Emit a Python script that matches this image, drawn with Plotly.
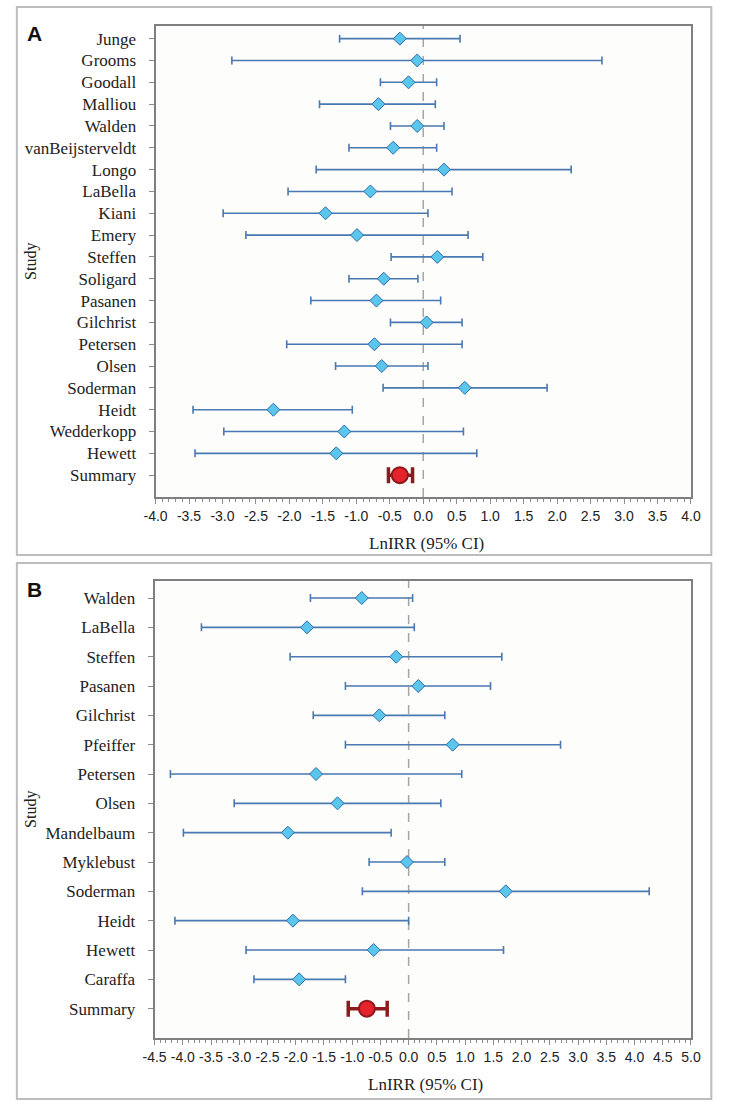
import plotly.graph_objects as go

# ---------------- Panel A data ----------------
studies_a = ["Junge", "Grooms", "Goodall", "Malliou", "Walden", "vanBeijsterveldt",
             "Longo", "LaBella", "Kiani", "Emery", "Steffen", "Soligard", "Pasanen",
             "Gilchrist", "Petersen", "Olsen", "Soderman", "Heidt", "Wedderkopp", "Hewett"]
est_a = [-0.35, -0.09, -0.22, -0.67, -0.09, -0.45, 0.31, -0.79, -1.46, -0.99,
         0.21, -0.59, -0.70, 0.05, -0.73, -0.62, 0.62, -2.24, -1.18, -1.30]
low_a = [-1.25, -2.86, -0.64, -1.55, -0.49, -1.11, -1.60, -2.02, -2.99, -2.65,
         -0.48, -1.11, -1.68, -0.49, -2.04, -1.31, -0.60, -3.44, -2.98, -3.41]
up_a = [0.55, 2.67, 0.20, 0.18, 0.31, 0.20, 2.21, 0.43, 0.07, 0.67,
        0.89, -0.08, 0.26, 0.58, 0.58, 0.07, 1.85, -1.06, 0.60, 0.80]
summary_a = {"est": -0.35, "low": -0.52, "up": -0.16}
xticks_a = [-4.0, -3.5, -3.0, -2.5, -2.0, -1.5, -1.0, -0.5, 0.0, 0.5, 1.0, 1.5, 2.0, 2.5, 3.0, 3.5, 4.0]

# ---------------- Panel B data ----------------
studies_b = ["Walden", "LaBella", "Steffen", "Pasanen", "Gilchrist", "Pfeiffer", "Petersen",
             "Olsen", "Mandelbaum", "Myklebust", "Soderman", "Heidt", "Hewett", "Caraffa"]
est_b = [-0.83, -1.80, -0.22, 0.17, -0.52, 0.78, -1.64, -1.26, -2.14, -0.03, 1.72, -2.05, -0.62, -1.94]
low_b = [-1.74, -3.67, -2.10, -1.12, -1.69, -1.12, -4.22, -3.09, -3.99, -0.70, -0.82, -4.14, -2.88, -2.74]
up_b = [0.07, 0.10, 1.65, 1.45, 0.64, 2.69, 0.94, 0.57, -0.31, 0.64, 4.26, 0.00, 1.68, -1.12]
summary_b = {"est": -0.74, "low": -1.07, "up": -0.38}
xticks_b = [-4.5, -4.0, -3.5, -3.0, -2.5, -2.0, -1.5, -1.0, -0.5, 0.0, 0.5, 1.0, 1.5, 2.0,
            2.5, 3.0, 3.5, 4.0, 4.5, 5.0]

W, H = 732, 1110
SERIF = "Liberation Serif"
SANS = "Liberation Sans"
STUDY_LINE = "#4A78B0"
DIAMOND_FILL = "#5BC6EC"
DIAMOND_LINE = "#2E6DAE"
SUM_FILL = "#E4232B"
SUM_LINE = "#8E1A1E"

def px(x):
    return x / W

def py(y):
    return 1 - y / H

fig = go.Figure()

def add_panel(idx, studies, est, low, up, summ, xticks, xrange_, plot_box, outer_box, letter):
    n = len(studies)
    ypos = list(range(n + 1, 1, -1))
    xa = "x" if idx == 1 else "x2"
    ya = "y" if idx == 1 else "y2"
    fig.add_trace(go.Scatter(
        x=est, y=ypos, mode="markers", xaxis=xa, yaxis=ya,
        marker=dict(symbol="diamond", size=10, color=DIAMOND_FILL,
                    line=dict(color=DIAMOND_LINE, width=1)),
        error_x=dict(type="data", symmetric=False,
                     array=[u - e for u, e in zip(up, est)],
                     arrayminus=[e - l for e, l in zip(est, low)],
                     color=STUDY_LINE, thickness=1.6, width=4),
        showlegend=False, hoverinfo="skip"))
    fig.add_trace(go.Scatter(
        x=[summ["est"]], y=[1], mode="markers", xaxis=xa, yaxis=ya,
        marker=dict(symbol="circle", size=16, color=SUM_FILL,
                    line=dict(color=SUM_LINE, width=2)),
        error_x=dict(type="data", symmetric=False,
                     array=[summ["up"] - summ["est"]],
                     arrayminus=[summ["est"] - summ["low"]],
                     color=SUM_LINE, thickness=3.5, width=8),
        showlegend=False, hoverinfo="skip"))

    x0, y0, x1, y1 = plot_box
    axis_common = dict(showgrid=False, zeroline=False, showline=True, mirror=True,
                       linecolor="#7F7F7F", linewidth=2, ticks="outside",
                       tickcolor="#8C8C8C", ticklen=5, tickwidth=1)
    xkey = "xaxis" if idx == 1 else "xaxis2"
    ykey = "yaxis" if idx == 1 else "yaxis2"
    fig.update_layout(**{
        xkey: dict(axis_common, domain=[px(x0), px(x1)], range=xrange_,
                   tickvals=xticks, ticktext=[f"{v:.1f}" for v in xticks],
                   tickfont=dict(family=SANS, size=14, color="#222"),
                   minor=dict(dtick=0.1, tick0=0, ticks="outside", ticklen=3,
                              tickcolor="#8C8C8C", tickwidth=1),
                   anchor=ya),
        ykey: dict(axis_common, domain=[py(y1), py(y0)], range=[0, n + 1.58],
                   tickvals=ypos + [1], ticktext=studies + ["Summary"],
                   tickfont=dict(family=SERIF, size=17, color="#222"),
                   ticklabelstandoff=9,
                   anchor=xa),
    })
    # dashed zero line
    fig.add_shape(type="line", xref=xa, yref=f"{ya} domain", x0=0, x1=0, y0=0, y1=1,
                  line=dict(color="#A6A6A6", width=1.5, dash="dash"), layer="below")
    # outer panel box
    ox0, oy0, ox1, oy1 = outer_box
    fig.add_shape(type="rect", xref="paper", yref="paper",
                  x0=px(ox0), x1=px(ox1), y0=py(oy1), y1=py(oy0),
                  line=dict(color="#BDBDBD", width=2), fillcolor="rgba(0,0,0,0)")
    # panel letter
    fig.add_annotation(text=f"<b>{letter}</b>", xref="paper", yref="paper",
                       x=px(23), y=py(oy0 + 26), xanchor="center", yanchor="middle",
                       showarrow=False, font=dict(family=SANS, size=21, color="#111"))
    # axis titles
    fig.add_annotation(text="Study", xref="paper", yref="paper",
                       x=px(19), y=py((y0 + y1) / 2), textangle=-90,
                       xanchor="center", yanchor="middle", showarrow=False,
                       font=dict(family=SERIF, size=16, color="#222"))
    fig.add_annotation(text="LnIRR (95% CI)", xref="paper", yref="paper",
                       x=px((x0 + x1) / 2 + 3), y=py(y1 + 46), xanchor="center", yanchor="middle",
                       showarrow=False, font=dict(family=SERIF, size=17, color="#222"))

add_panel(1, studies_a, est_a, low_a, up_a, summary_a, xticks_a, [-4.0, 4.0],
          (148, 26, 700, 497), (5, 7, 721, 555), "A")
add_panel(2, studies_b, est_b, low_b, up_b, summary_b, xticks_b, [-4.5, 5.0],
          (147, 581, 700, 1038), (5, 563, 721, 1099), "B")

fig.update_layout(width=W, height=H, margin=dict(l=0, r=0, t=0, b=0),
                  paper_bgcolor="white", plot_bgcolor="#FDFDFB")

fig.write_html("out.html", config={"displayModeBar": False},
               post_script="document.body.style.margin='0';")
